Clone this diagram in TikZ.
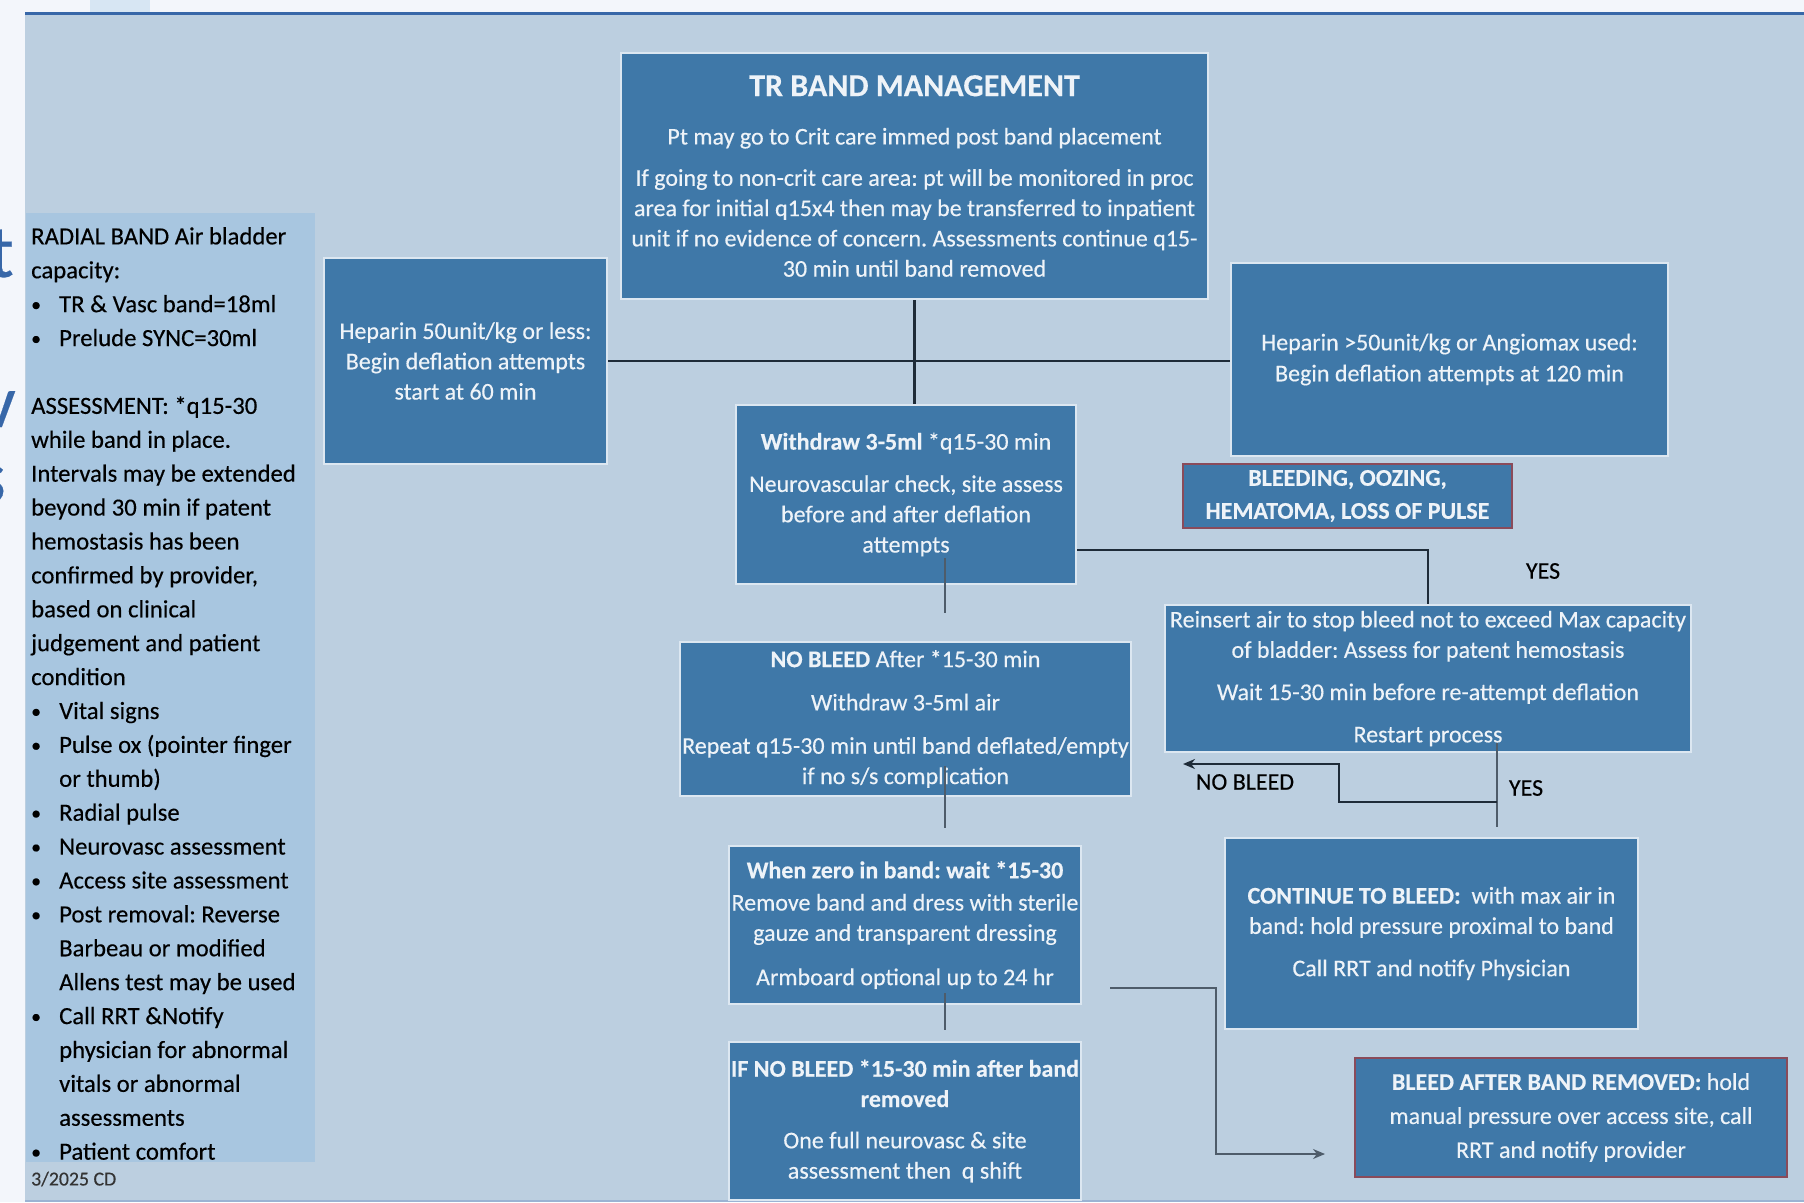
\documentclass[tikz,border=0pt]{standalone}
\usepackage{fontspec}
\usepackage{graphicx}
\setmainfont{Carlito}[FakeBold=0.3]
\usetikzlibrary{arrows.meta,calc}
\definecolor{bg}{HTML}{BCCFE0}
\definecolor{strip}{HTML}{F3F6FB}
\definecolor{panel}{HTML}{A8C6E0}
\definecolor{boxblue}{HTML}{3F78A8}
\definecolor{boxedge}{HTML}{DCE7F1}
\definecolor{redge}{HTML}{8A4B5A}
\definecolor{txtw}{HTML}{EEF3F8}
\definecolor{linedark}{HTML}{1E2B38}
\definecolor{linemid}{HTML}{4E5C6A}
\definecolor{slideblue}{HTML}{3767A8}
\definecolor{tabc}{HTML}{D7E6F3}
\newcommand{\pbul}{\makebox[28pt][l]{\raisebox{1pt}{\scalebox{0.8}{\textbullet}}}}
\tikzset{
  flowbox/.style={draw=boxedge, line width=2.5pt, fill=boxblue, text=txtw, align=center,
    inner sep=0pt, font=\fontsize{24}{30.3}\selectfont},
  alertbox/.style={flowbox, draw=redge},
  thickline/.style={draw=linedark, line width=2.2pt},
  midline/.style={draw=linedark, line width=1.8pt},
  thinline/.style={draw=linemid, line width=1.2pt},
  lbl/.style={font=\fontsize{24}{26}\selectfont, text=black, inner sep=0pt},
  tip/.style={-{Stealth[length=12pt,width=10pt]}},
  slidefrag/.style={text=slideblue, font=\fontsize{75}{75}\selectfont, inner sep=0pt, anchor=base east}
}
\begin{document}
\frenchspacing
\begin{tikzpicture}[x=1pt,y=-1pt]
\useasboundingbox (0,0) rectangle (1804,1202);
% backgrounds
\fill[strip] (0,0) rectangle (1804,1202);
\fill[bg] (25,14) rectangle (1804,1202);
\fill[tabc] (90,0) rectangle (150,13);
\draw[slideblue, line width=3pt] (25,13.5) -- (1804,13.5);
\draw[slideblue!50, line width=2pt] (25,1201) -- (1804,1201);
% clipped slide letters at the left edge
\begin{scope}
\clip (0,0) rectangle (25,1202);
\node[slidefrag] (fragt) at (14,277) {t};
\node[slidefrag] (fragv) at (16,427) {v};
\node[slidefrag] (frags) at (6,502) {s};
\node[slidefrag] (fragd) at (5,866) {.};
\end{scope}
% left panel
\fill[panel] (26,213) rectangle (315,1162);
\node[anchor=north west, align=left, inner sep=0pt, text=black,
      font=\fontsize{24.7}{33.9}\selectfont] (panel) at (31,227) {%
RADIAL BAND Air bladder\\
capacity:\\
\pbul TR \& Vasc band=18ml\\
\pbul Prelude SYNC=30ml\\[33.9pt]
ASSESSMENT: *q15-30\\
while band in place.\\
Intervals may be extended\\
beyond 30 min if patent\\
hemostasis has been\\
confirmed by provider,\\
based on clinical\\
judgement and patient\\
condition\\
\pbul Vital signs\\
\pbul Pulse ox (pointer finger\\
\hspace*{28pt}or thumb)\\
\pbul Radial pulse\\
\pbul Neurovasc assessment\\
\pbul Access site assessment\\
\pbul Post removal: Reverse\\
\hspace*{28pt}Barbeau or modified\\
\hspace*{28pt}Allens test may be used\\
\pbul Call RRT \&Notify\\
\hspace*{28pt}physician for abnormal\\
\hspace*{28pt}vitals or abnormal\\
\hspace*{28pt}assessments\\
\pbul Patient comfort};
\node[anchor=west, inner sep=0pt, text=black!80, font=\fontsize{19.8}{22}\selectfont] (date) at (31,1179) {3/2025 CD};
% boxes
\node[flowbox, minimum width=587pt, minimum height=246pt] (tr) at (914.5,176) {%
{\bfseries\fontsize{32}{32}\selectfont TR BAND MANAGEMENT}\\[18pt]
Pt may go to Crit care immed post band placement\\[11pt]
If going to non-crit care area: pt will be monitored in proc\\
area for initial q15x4 then may be transferred to inpatient\\
unit if no evidence of concern. Assessments continue q15-\\
30 min until band removed};
\node[flowbox, minimum width=283pt, minimum height=206pt] (hl) at (465.5,361) {%
Heparin 50unit/kg or less:\\ Begin deflation attempts\\ start at 60 min};
\node[flowbox, minimum width=437pt, minimum height=193pt, font=\fontsize{24}{31}\selectfont] (hr) at (1449.5,359.5) {%
Heparin >50unit/kg or Angiomax used:\\ Begin deflation attempts at 120 min};
\node[flowbox, minimum width=340pt, minimum height=179pt] (wd) at (906,494.5) {%
\textbf{Withdraw 3-5ml} *q15-30 min\\[12pt]
Neurovascular check, site assess\\ before and after deflation\\ attempts};
\node[alertbox, minimum width=329pt, minimum height=64pt, font=\bfseries\fontsize{24}{33}\selectfont] (bl) at (1347.5,496) {%
BLEEDING, OOZING,\\ HEMATOMA, LOSS OF PULSE};
\node[flowbox, minimum width=451pt, minimum height=154pt] (nb) at (905.5,719) {%
\textbf{NO BLEED} After *15-30 min\\[13pt]
Withdraw 3-5ml air\\[13pt]
Repeat q15-30 min until band deflated/empty\\ if no s/s complication};
\node[flowbox, minimum width=352pt, minimum height=158pt] (wz) at (905,925) {%
\textbf{When zero in band: wait *15-30}\\[2pt]
Remove band and dress with sterile\\ gauze and transparent dressing\\[14pt]
Armboard optional up to 24 hr};
\node[flowbox, minimum width=352pt, minimum height=158pt] (inb) at (905,1121) {%
\textbf{IF NO BLEED *15-30 min after band}\\ \textbf{removed}\\[11pt]
One full neurovasc \& site\\ assessment then\ \ q shift};
\node[flowbox, minimum width=526pt, minimum height=147pt] (rs) at (1428,678.5) {%
Reinsert air to stop bleed not to exceed Max capacity\\ of bladder: Assess for patent hemostasis\\[12pt]
Wait 15-30 min before re-attempt deflation\\[12pt]
Restart process};
\node[flowbox, minimum width=413pt, minimum height=191pt] (ct) at (1431.5,933.5) {%
\textbf{CONTINUE TO BLEED:}\ \ with max air in\\ band: hold pressure proximal to band\\[12pt]
Call RRT and notify Physician};
\node[alertbox, minimum width=432pt, minimum height=119pt, font=\fontsize{24}{34}\selectfont] (ba) at (1571,1117.5) {%
\textbf{BLEED AFTER BAND REMOVED:} hold\\ manual pressure over access site, call\\ RRT and notify provider\rule[-3pt]{0pt}{0pt}};
% connectors
\draw[thickline] (tr.south) -- (tr.south |- wd.north);
\draw[thickline] (hl.east) -- (hl.east -| hr.west);
\draw[midline] ([yshift=35pt]wd.south east) -| (rs.north);
\node[lbl] (yes1) at (1543,571) {YES};
\coordinate (wdt) at ([xshift=39pt,yshift=27pt]wd.south);
\coordinate (wdb) at (945,613);
\draw[thinline] (wdt) -- (wdb);
\coordinate (nbt) at ([xshift=39.5pt,yshift=31pt]nb.south);
\coordinate (nbb) at (945,828);
\draw[thinline] (nbt) -- (nbb);
\coordinate (wzt) at ([xshift=40pt,yshift=12pt]wz.south);
\coordinate (wzb) at (945,1030);
\draw[thinline] (wzt) -- (wzb);
\coordinate (rst) at ([xshift=69pt,yshift=10pt]rs.south);
\coordinate (rsb) at (1497,827);
\draw[thinline] (rst) -- (rsb);
\coordinate (loopa) at (1497,802);
\coordinate (loopb) at (1183,764);
\draw[midline, tip] (loopa) -- (1339,802) -- (1339,764) -- (loopb);
\node[lbl] (nobleed) at (1245,782) {NO BLEED};
\node[lbl] (yes2) at (1526,788) {YES};
\coordinate (wzr) at (1110,988);
\coordinate (bain) at (1325,1154);
\draw[thinline, line width=1.6pt, tip] (wzr) -- (1216,988) -- (1216,1154) -- (bain);
\end{tikzpicture}
\end{document}
